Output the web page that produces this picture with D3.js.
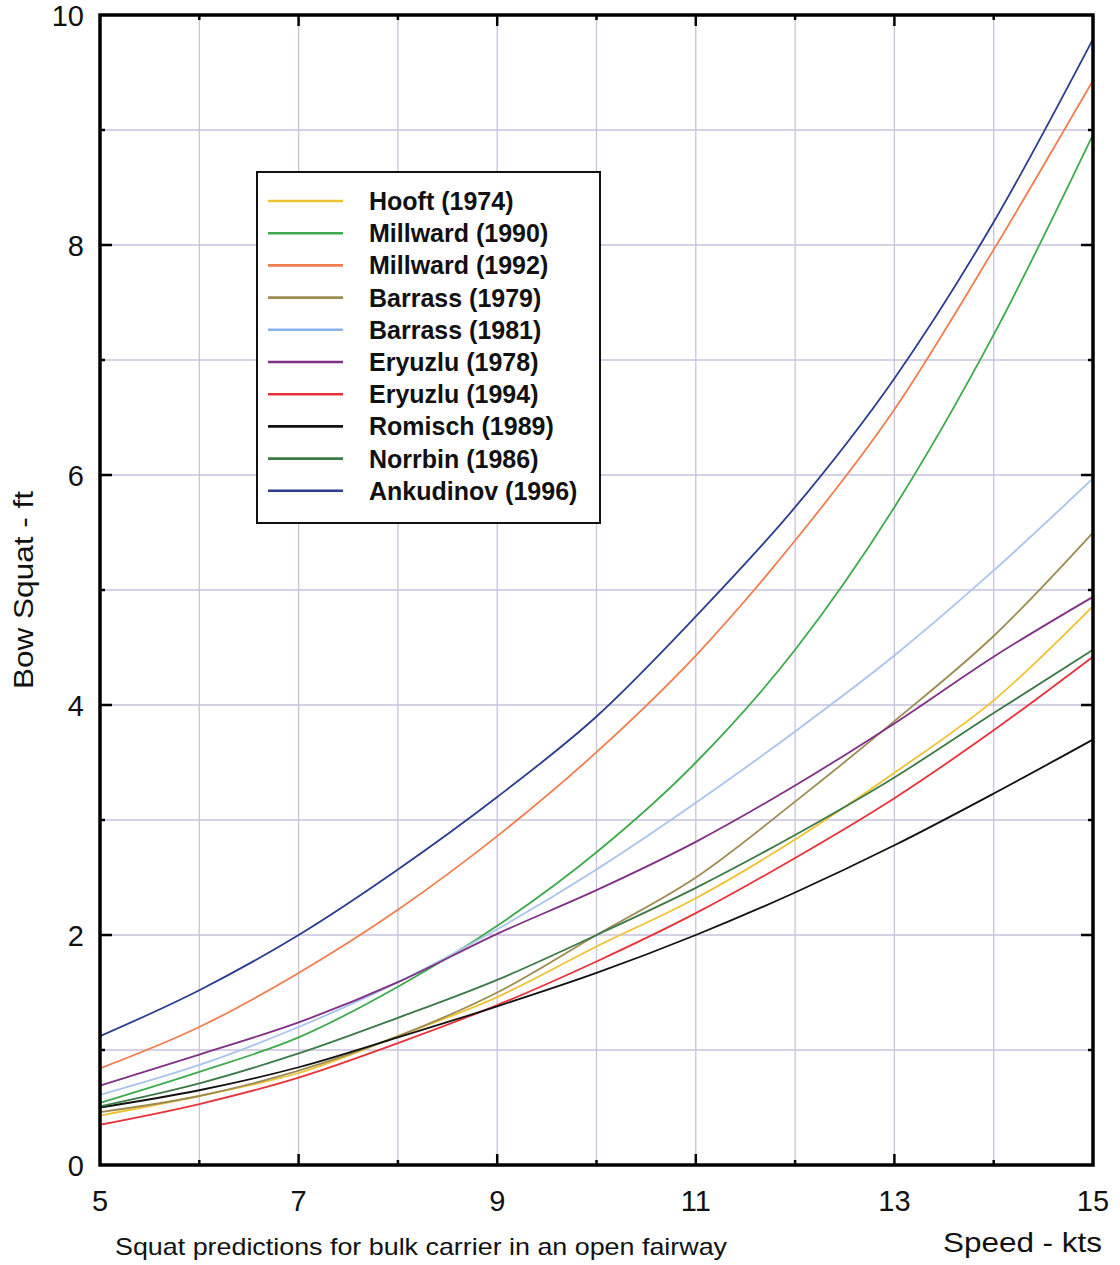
<!DOCTYPE html>
<html>
<head>
<meta charset="utf-8">
<script src="https://cdn.jsdelivr.net/npm/d3@7"></script>
<style>
	body { margin: 0; background: #fff; }
	svg text { font-family: "Liberation Sans", Arial, sans-serif; fill: #111; }
	.grid line { stroke: #c9c2dc; stroke-width: 1.3; }
	.series { fill: none; stroke-width: 1.8; }
</style>
</head>
<body>
<div id="chart"></div>
<script>
// speeds in knots
const speeds = [5, 6, 7, 8, 9, 10, 11, 12, 13, 14, 15];

// bow squat in ft
const hooft1974     = [0.43, 0.60, 0.80, 1.12, 1.46, 1.90, 2.32, 2.83, 3.41, 4.04, 4.86];
const millward1990  = [0.54, 0.81, 1.11, 1.55, 2.08, 2.72, 3.50, 4.48, 5.72, 7.22, 8.96];
const millward1992  = [0.84, 1.20, 1.67, 2.22, 2.86, 3.59, 4.43, 5.43, 6.57, 7.96, 9.43];
const barrass1979   = [0.46, 0.60, 0.82, 1.12, 1.50, 2.00, 2.50, 3.16, 3.86, 4.60, 5.50];
const barrass1981   = [0.61, 0.87, 1.20, 1.59, 2.05, 2.57, 3.15, 3.77, 4.43, 5.17, 5.97];
const eryuzlu1978   = [0.69, 0.96, 1.24, 1.59, 2.01, 2.39, 2.81, 3.30, 3.84, 4.42, 4.94];
const eryuzlu1994   = [0.35, 0.53, 0.76, 1.06, 1.39, 1.77, 2.19, 2.67, 3.19, 3.78, 4.42];
const romisch1989   = [0.50, 0.65, 0.85, 1.11, 1.38, 1.67, 2.00, 2.37, 2.78, 3.23, 3.70];
const norrbin1986   = [0.51, 0.71, 0.97, 1.28, 1.61, 2.00, 2.41, 2.87, 3.37, 3.93, 4.48];
const ankudinov1996 = [1.12, 1.52, 2.00, 2.57, 3.20, 3.90, 4.77, 5.72, 6.84, 8.20, 9.79];

const seriesNames = ["Hooft (1974)", "Millward (1990)", "Millward (1992)", "Barrass (1979)", "Barrass (1981)",
	"Eryuzlu (1978)", "Eryuzlu (1994)", "Romisch (1989)", "Norrbin (1986)", "Ankudinov (1996)"];
const seriesValues = [hooft1974, millward1990, millward1992, barrass1979, barrass1981,
	eryuzlu1978, eryuzlu1994, romisch1989, norrbin1986, ankudinov1996];
const seriesColors = ["#f0c232", "#3daa4c", "#f07e4e", "#9c8c52", "#86b2ee",
	"#822f86", "#e8323a", "#111111", "#3b7a46", "#2b3d8e"];
// the plotted Barrass (1981) curve is paler than its legend swatch
const plotColors = seriesColors.slice();
plotColors[4] = "#a9c4ec";

const xTicks = [5, 7, 9, 11, 13, 15];
const yTicks = [0, 2, 4, 6, 8, 10];

const margin = { top: 15, right: 27, bottom: 100, left: 100 };
const W = 1120, H = 1265;
const width = W - margin.left - margin.right;
const height = H - margin.top - margin.bottom;

let svg = d3.select("#chart").append("svg")
	.attr("width", W)
	.attr("height", H);

let g = svg.append("g")
	.attr("transform", "translate(" + margin.left + "," + margin.top + ")");

let x = d3.scaleLinear().domain([5, 15]).range([0, width]);
let y = d3.scaleLinear().domain([0, 10]).range([height, 0]);

// grid
let grid = g.append("g").attr("class", "grid");
grid.selectAll(".vg").data(d3.range(6, 15)).enter().append("line")
	.attr("x1", d => x(d)).attr("x2", d => x(d))
	.attr("y1", 0).attr("y2", height);
grid.selectAll(".hg").data(d3.range(1, 10)).enter().append("line")
	.attr("x1", 0).attr("x2", width)
	.attr("y1", d => y(d)).attr("y2", d => y(d));

// curves
let line = d3.line()
	.curve(d3.curveMonotoneX)
	.x((d, i) => x(speeds[i]))
	.y(d => y(d));

g.selectAll(".series").data(seriesValues).enter().append("path")
	.attr("class", "series")
	.attr("stroke", (d, i) => plotColors[i])
	.attr("d", d => line(d));

// frame
g.append("rect")
	.attr("width", width).attr("height", height)
	.attr("fill", "none").attr("stroke", "#000").attr("stroke-width", 3.5);

// inward ticks: long on the labelled values, short in between
let tickG = g.append("g").attr("stroke", "#000").attr("stroke-width", 2.5);
d3.range(6, 15).forEach(function(v) {
	let len = (v % 2 === 1) ? 11 : 5;
	tickG.append("line").attr("x1", x(v)).attr("x2", x(v)).attr("y1", height).attr("y2", height - len);
	tickG.append("line").attr("x1", x(v)).attr("x2", x(v)).attr("y1", 0).attr("y2", len);
});
d3.range(1, 10).forEach(function(v) {
	let len = (v % 2 === 0) ? 12 : 5;
	tickG.append("line").attr("x1", 0).attr("x2", len).attr("y1", y(v)).attr("y2", y(v));
	tickG.append("line").attr("x1", width).attr("x2", width - len).attr("y1", y(v)).attr("y2", y(v));
});

// tick labels
g.selectAll(".ylab").data(yTicks).enter().append("text")
	.attr("x", -16).attr("y", d => y(d) + 11)
	.attr("text-anchor", "end")
	.style("font-size", "29px")
	.text(d => d);

g.selectAll(".xlab").data(xTicks).enter().append("text")
	.attr("x", d => x(d)).attr("y", height + 46)
	.attr("text-anchor", "middle")
	.style("font-size", "29px")
	.text(d => d);

// axis titles
svg.append("text")
	.attr("transform", "translate(33,590) rotate(-90)")
	.attr("text-anchor", "middle")
	.style("font-size", "27px")
	.attr("textLength", 198).attr("lengthAdjust", "spacingAndGlyphs")
	.text("Bow Squat - ft");

svg.append("text")
	.attr("x", 1102).attr("y", 1252)
	.attr("text-anchor", "end")
	.style("font-size", "28px")
	.attr("textLength", 159).attr("lengthAdjust", "spacingAndGlyphs")
	.text("Speed - kts");

svg.append("text")
	.attr("x", 115).attr("y", 1255)
	.style("font-size", "24px")
	.attr("textLength", 612).attr("lengthAdjust", "spacingAndGlyphs")
	.text("Squat predictions for bulk carrier in an open fairway");

// legend
let legend = svg.append("g").attr("transform", "translate(257,172)");
legend.append("rect")
	.attr("width", 343).attr("height", 351)
	.attr("fill", "#fff").attr("stroke", "#111").attr("stroke-width", 2);

let rows = legend.selectAll(".row").data(seriesNames).enter().append("g")
	.attr("transform", (d, i) => "translate(0," + (29 + i * 32.2) + ")");
rows.append("line")
	.attr("x1", 11).attr("x2", 86)
	.attr("stroke", (d, i) => seriesColors[i])
	.attr("stroke-width", 2.6);
rows.append("text")
	.attr("x", 112).attr("y", 9)
	.style("font-size", "25px")
	.style("font-weight", "bold")
	.text(d => d);
</script>
</body>
</html>
